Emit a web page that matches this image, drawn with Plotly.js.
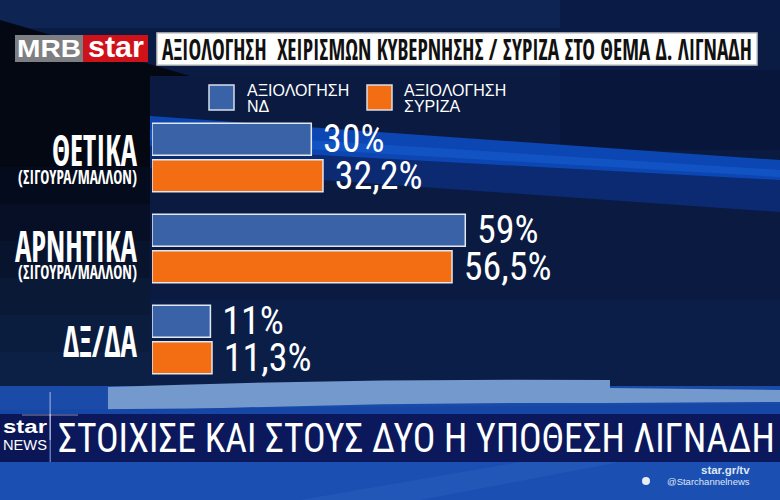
<!DOCTYPE html>
<html><head><meta charset="utf-8">
<script src="https://cdn.plot.ly/plotly-3.0.1.min.js"></script>
<style>html,body{margin:0;padding:0;background:#0b1c44;overflow:hidden}#chart{width:780px;height:500px}</style>
</head><body><div id="chart"></div>
<script>
// ---------- data ----------
const categories = ['ΘΕΤΙΚΑ', 'ΑΡΝΗΤΙΚΑ', 'ΔΞ/ΔΑ'];
const subLabels = ['(ΣΙΓΟΥΡΑ/ΜΑΛΛΟΝ)', '(ΣΙΓΟΥΡΑ/ΜΑΛΛΟΝ)', ''];
const seriesNames = ['ΑΞΙΟΛΟΓΗΣΗ ΝΔ', 'ΑΞΙΟΛΟΓΗΣΗ ΣΥΡΙΖΑ'];
const ndValues = [30, 59, 11];
const syrizaValues = [32.2, 56.5, 11.3];
const titleText = 'ΑΞΙΟΛΟΓΗΣΗ  ΧΕΙΡΙΣΜΩΝ ΚΥΒΕΡΝΗΣΗΣ / ΣΥΡΙΖΑ ΣΤΟ ΘΕΜΑ Δ. ΛΙΓΝΑΔΗ';
const headlineText = 'ΣΤΟΙΧΙΣΕ ΚΑΙ ΣΤΟΥΣ ΔΥΟ Η ΥΠΟΘΕΣΗ ΛΙΓΝΑΔΗ';
const logoLeft = 'MRB', logoRight = 'star';
const newsLogo = ['star', 'NEWS'];
const siteText = 'star.gr/tv', twitterText = '@Starchannelnews';

// ---------- geometry helpers ----------
const W = 780, H = 500, L = 152, R = 97, T = 112, B = 115;
const pw = W - L - R, ph = H - T - B;
const X = px => (px - L) / pw;
const Y = py => (H - B - py) / ph;
const FCB = '"Open Sans Condensed", "Roboto Condensed", "DejaVu Sans Condensed", sans-serif';
const FC = '"Roboto Condensed", "DejaVu Sans Condensed", sans-serif';
const FR = '"Liberation Sans", "DejaVu Sans", sans-serif';
const colors = ['#3a62a7', '#f36d12'];

function pth(cmds) {
  return cmds.map(c => {
    let s = c[0];
    for (let i = 1; i < c.length; i += 2) s += (i > 1 ? ' ' : '') + X(c[i]).toFixed(4) + ',' + Y(c[i + 1]).toFixed(4);
    return s;
  }).join(' ');
}
function rect(x0, y0, x1, y1, fill, extra) {
  return Object.assign({type: 'rect', xref: 'paper', yref: 'paper', x0: X(x0), x1: X(x1), y0: Y(y1), y1: Y(y0),
    fillcolor: fill, line: {width: 0}, layer: 'below'}, extra || {});
}
function shp(cmds, fill, extra) {
  return Object.assign({type: 'path', xref: 'paper', yref: 'paper', path: pth(cmds), fillcolor: fill, line: {width: 0}, layer: 'below'}, extra || {});
}

// ---------- background ----------
const leftBands = ['#030813', '#040b1d', '#060f26', '#08142e', '#0a1936', '#0b1d3f', '#0c2046'];
const shapes = [
  rect(0, 0, 780, 500, '#0b1c44'),
  rect(0, 0, 780, 28, '#0e2452'),
  rect(560, 0, 780, 28, '#0a1c46'),
  shp([['M', 0, 20], ['L', 190, 76], ['L', 190, 112], ['L', 150, 112], ['L', 150, 130], ['L', 0, 130], ['Z']], leftBands[0]),
  rect(150, 76, 780, 386, '#0a1a40'),
  rect(560, 70, 780, 150, '#07163a')
];
leftBands.forEach((c, i) => shapes.push(rect(0, 130 + i * 37, 150, 130 + (i + 1) * 37 + 1, c)));
shapes.push(
  rect(150, 300, 780, 386, '#0b1e48'),
  // diagonal streaks
  shp([['M', 150, 138], ['L', 780, 176], ['L', 780, 212], ['L', 150, 168], ['Z']], '#0b2a72'),
  shp([['M', 150, 116], ['L', 780, 160], ['L', 780, 180], ['L', 150, 146], ['Z']], '#0c46b3'),
  shp([['M', 150, 130], ['L', 780, 170], ['L', 780, 177], ['L', 150, 140], ['Z']], '#1253c4'),
  // bottom blue + light swoosh
  rect(0, 386, 780, 500, '#1b4ba9'),
  shp([['M', 108, 387], ['Q', 360, 378, 610, 380], ['L', 610, 388], ['L', 780, 390], ['L', 780, 402], ['L', 610, 403], ['Q', 360, 402, 108, 412], ['Z']], '#7399cd'),
  shp([['M', 0, 410], ['L', 780, 404], ['L', 780, 414], ['L', 0, 414], ['Z']], '#1747a6'),
  // banner
  rect(0, 414, 780, 462, '#0b195c'),
  rect(0, 414, 50, 462, '#0a1655'),
  rect(49.5, 414, 51, 462, '#5a78c0'),
  rect(0, 462, 780, 500, '#1c4fb2'),
  shp([['M', 300, 500], ['L', 520, 462], ['L', 620, 462], ['L', 420, 500], ['Z']], '#2257b8'),
  // lens flare
  rect(49.6, 392, 50.6, 440, 'rgba(255,255,255,0.6)'),
  rect(22, 414.5, 78, 415.5, 'rgba(255,255,255,0.5)'),
  // header boxes
  rect(15, 35, 83, 62, '#7d7f82'),
  rect(83, 35, 148, 62, '#cf111a'),
  rect(157, 33, 757, 65, '#ffffff', {line: {color: '#c8c8c8', width: 1.5}}),
  // legend squares
  rect(209, 85, 234, 110, colors[0], {line: {color: '#d8deea', width: 1.5}}),
  rect(367, 85, 392, 110, colors[1], {line: {color: '#d8deea', width: 1.5}}),
  // twitter bird
  {type: 'circle', xref: 'paper', yref: 'paper', x0: X(642), x1: X(650), y0: Y(485), y1: Y(477), fillcolor: '#e6ecf8', line: {width: 0}, layer: 'below'}
);

// ---------- annotations ----------
const annotations = [];
const fits = []; // [annotation index, left px, width px]
function ann(o, fit) {
  annotations.push(Object.assign({showarrow: false, yanchor: 'middle'}, o));
  if (fit) fits.push([annotations.length - 1, fit[0], fit[1]]);
}
const catCenter = [157.5, 248.5, 339.5];
const mainY = [149, 245, 340], subY = [176, 271];
const mainFit = [[52, 85], [15, 122], [63, 74]];
categories.forEach((c, i) => {
  ann({text: c, xref: 'paper', x: X(137), xanchor: 'right', yref: 'y', y: c, yshift: catCenter[i] - mainY[i],
    font: {family: FCB, size: 43, weight: 'bold', color: '#ffffff'}}, mainFit[i]);
  if (subLabels[i]) ann({text: subLabels[i], xref: 'paper', x: X(137), xanchor: 'right', yref: 'y', y: c,
    yshift: catCenter[i] - subY[i], font: {family: FCB, size: 20, weight: 'bold', color: '#ffffff'}}, [18, 119]);
});
// legend text
const legX = [245, 402];
seriesNames.forEach((n, i) => {
  const parts = n.split(' ');
  ann({text: parts[0], xref: 'paper', yref: 'paper', x: X(legX[i]), xanchor: 'left', y: Y(90),
    font: {family: FR, size: 16, color: '#ffffff'}});
  ann({text: parts.slice(1).join(' '), xref: 'paper', yref: 'paper', x: X(legX[i]), xanchor: 'left', y: Y(106),
    font: {family: FR, size: 16, color: '#ffffff'}});
});
// logos
ann({text: logoLeft, xref: 'paper', yref: 'paper', x: X(50), y: Y(49), font: {family: FR, size: 24, weight: 'bold', color: '#ffffff'}}, [17, 64]);
ann({text: logoRight, xref: 'paper', yref: 'paper', x: X(116), y: Y(47), font: {family: FR, size: 29, weight: 'bold', color: '#ffffff'}}, [88, 56]);
// banner
ann({text: headlineText, xref: 'paper', yref: 'paper', x: X(416), y: Y(438),
  font: {family: FC, size: 41, color: '#ffffff'}}, [58, 717]);
ann({text: newsLogo[0], xref: 'paper', yref: 'paper', x: X(25), y: Y(426), font: {family: FR, size: 19, weight: 'bold', color: '#ffffff'}}, [3, 44]);
ann({text: newsLogo[1], xref: 'paper', yref: 'paper', x: X(25), y: Y(444), font: {family: FR, size: 15, weight: 300, color: '#ffffff'}}, [3, 44]);
ann({text: siteText, xref: 'paper', yref: 'paper', x: X(752), xanchor: 'right', y: Y(469.5), font: {family: FR, size: 11.5, weight: 'bold', color: '#dfe6f5'}});
ann({text: twitterText, xref: 'paper', yref: 'paper', x: X(752), xanchor: 'right', y: Y(481.5), font: {family: FR, size: 9.5, color: '#dfe6f5'}});

// ---------- traces ----------
const fmt = v => '\u00a0' + String(v).replace('.', ',') + '%';
const valueSets = [ndValues, syrizaValues];
const traces = valueSets.map((vals, i) => ({
  type: 'bar', orientation: 'h', y: categories, x: vals, name: seriesNames[i],
  marker: {color: colors[i], line: {color: '#e2e8f2', width: 1.5}},
  text: vals.map(fmt), textposition: 'outside', constraintext: 'none', cliponaxis: false,
  outsidetextfont: {family: FC, size: 38, color: '#ffffff'}, textfont: {family: FC, size: 38, color: '#ffffff'},
  hoverinfo: 'skip'
}));

const layout = {
  width: W, height: H, margin: {l: L, r: R, t: T, b: B, pad: 0},
  paper_bgcolor: '#0b1c44', plot_bgcolor: 'rgba(0,0,0,0)',
  barmode: 'group', bargap: 0.2, bargroupgap: 0.12, showlegend: false,
  title: {text: titleText, xref: 'container', yref: 'container', x: 162 / W, xanchor: 'left', y: 1 - 49.5 / H, yanchor: 'middle',
    font: {family: FCB, size: 29, weight: 'bold', color: '#111111'}},
  xaxis: {range: [0, 100], visible: false, fixedrange: true},
  yaxis: {type: 'category', autorange: 'reversed', showticklabels: false, showgrid: false, zeroline: false, ticks: '', fixedrange: true},
  shapes: shapes, annotations: annotations
};

// shrink the font so the text takes the wanted width, then stretch it back vertically (narrow TV lettering)
function fitEl(el, left, width) {
  if (!el) return;
  const fs = parseFloat(getComputedStyle(el).fontSize);
  const w0 = el.getComputedTextLength();
  if (!w0) return;
  const f = width / w0;
  const b0 = el.getBBox();
  const c0 = b0.y + b0.height / 2;
  el.style.fontSize = (fs * f).toFixed(3) + 'px';
  const b1 = el.getBBox();
  const c1 = b1.y + b1.height / 2;
  const k = 1 / f;
  const r = el.getBoundingClientRect();
  const dx = left - r.left;
  const old = el.getAttribute('transform') || '';
  el.setAttribute('transform', (old + ' translate(' + dx.toFixed(2) + ',' + c0.toFixed(2) + ') scale(1,' + k.toFixed(4) + ') translate(0,' + (-c1).toFixed(2) + ')').trim());
}

Plotly.newPlot('chart', traces, layout, {displayModeBar: false, staticPlot: true}).then(gd => {
  fits.forEach(([idx, left, width]) => {
    fitEl(gd.querySelector('.annotation[data-index="' + idx + '"] text.annotation-text'), left, width);
  });
  fitEl(gd.querySelector('.gtitle'), 162, 590);
});
</script></body></html>
